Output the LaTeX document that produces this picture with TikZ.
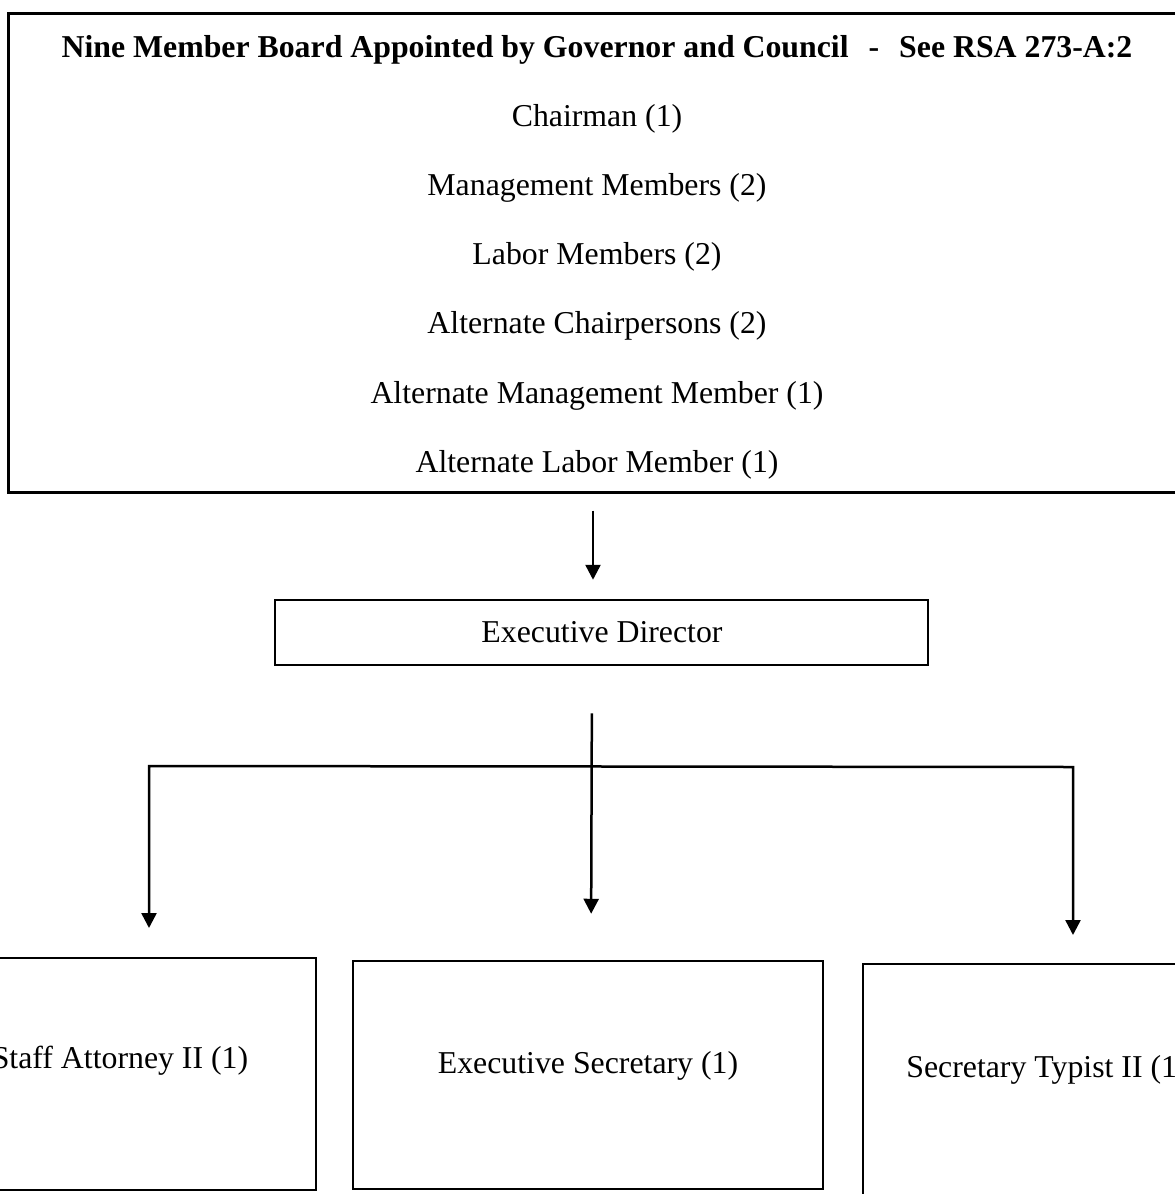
\documentclass[tikz,border=0pt]{standalone}
\usepackage{fontspec}
\setmainfont{Liberation Serif}
\usetikzlibrary{arrows.meta}
\begin{document}
\begin{tikzpicture}[x=1pt,y=-1pt,
  txt/.style={font=\fontsize{31.8}{38}\selectfont, inner sep=0pt},
  boxst/.style={draw, line width=2.5pt, inner sep=0pt},
  arr/.style={line width=2.5pt, -{Triangle[length=15pt,width=15pt]}},
  arrtwo/.style={line width=2.5pt, line join=miter, {Triangle[length=15pt,width=15pt]}-{Triangle[length=15pt,width=15pt]}}]
\useasboundingbox (0,0) rectangle (1175,1194);
\clip (0,0) rectangle (1175,1194);
% top board box
\node[boxst, anchor=north west, minimum width=1250pt, minimum height=479pt] (board) at (7,12) {};
\node[txt, anchor=base] (title) at (597,57) {\textbf{Nine Member Board Appointed by Governor and Council\hspace{20pt}-\hspace{20pt}See RSA 273-A:2}};
\node[txt] (l1) at (597,119) {Chairman (1)};
\node[txt] (l2) at (597,188) {Management Members (2)};
\node[txt] (l3) at (597,257) {Labor Members (2)};
\node[txt] (l4) at (597,326) {Alternate Chairpersons (2)};
\node[txt] (l5) at (597,396) {Alternate Management Member (1)};
\node[txt] (l6) at (597,465) {Alternate Labor Member (1)};
% executive director
\node[boxst, minimum width=653pt, minimum height=65pt] (ed) at (601.5,632.5) {};
\node[txt] (edt) at (602,632) {Executive Director};
% bottom boxes
\node[boxst, minimum width=394pt, minimum height=232pt] (staff) at (119,1074) {};
\node[txt] (stafft) at (120,1061) {Staff Attorney II (1)};
\node[boxst, minimum width=470pt, minimum height=228pt] (exsec) at (588,1075) {};
\node[txt] (exsect) at (588,1066) {Executive Secretary (1)};
\node[boxst, minimum width=368pt, minimum height=246pt] (typist) at (1047,1087) {};
\node[txt] (typistt) at (1047,1070) {Secretary Typist II (1)};
% connectors
\draw[arr, shorten <=17pt, shorten >=19pt] (board.south -| 593,0) -- ([xshift=-8.5pt]ed.north);
\draw[arr, shorten <=47pt, shorten >=46pt] ([xshift=-9.5pt]ed.south) -- ([xshift=3pt]exsec.north);
\coordinate (bl) at (149,766);
\coordinate (br) at (1073,767);
\coordinate (tl) at (149,928);
\coordinate (tr) at (1073,935);
\draw[arrtwo] (tl) -- (bl) -- (br) -- (tr);
\end{tikzpicture}
\end{document}
